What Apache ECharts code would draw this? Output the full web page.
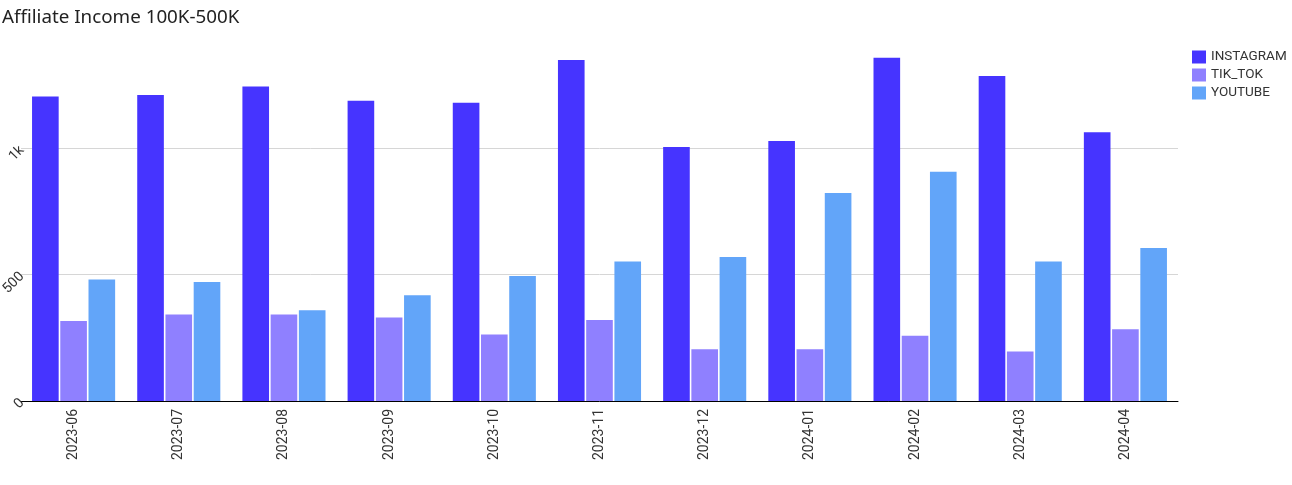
<!DOCTYPE html>
<html>
<head>
<meta charset="utf-8">
<script src="https://cdn.jsdelivr.net/npm/echarts@6/dist/echarts.min.js"></script>
<style>html,body{margin:0;padding:0;background:#fff;}#c{width:1292px;height:485px;}</style>
</head>
<body>
<div id="c"></div>
<script>
const categories = ['2023-06','2023-07','2023-08','2023-09','2023-10','2023-11','2023-12','2024-01','2024-02','2024-03','2024-04'];
const instagram = [1204, 1210, 1244, 1187, 1180, 1349, 1005, 1028, 1357, 1285, 1063];
const tikTok = [316, 342, 342, 330, 263, 320, 205, 205, 258, 196, 284];
const youtube = [481, 471, 359, 418, 494, 552, 569, 823, 907, 552, 605];
const seriesNames = ['INSTAGRAM', 'TIK_TOK', 'YOUTUBE'];
const yTicks = [0, 500, 1000];

const colors = ['#4634ff', '#8f80ff', '#62a5f9'];
const chart = echarts.init(document.getElementById('c'));
chart.setOption({
  animation: false,
  title: {
    text: 'Affiliate Income 100K-500K',
    left: -3, top: 3,
    textStyle: { fontFamily: 'Noto Sans', fontSize: 18.8, fontWeight: 'normal', color: '#222' }
  },
  legend: {
    orient: 'vertical', left: 1187, top: 45,
    itemWidth: 14, itemHeight: 13, itemGap: 4,
    icon: 'rect',
    textStyle: { fontFamily: 'Roboto', fontSize: 13.5, color: '#333' },
    data: seriesNames
  },
  grid: { left: 21, right: 114, top: 47, bottom: 84, containLabel: false, outerBoundsMode: 'none' },
  xAxis: {
    type: 'category', data: categories,
    axisLine: { lineStyle: { color: '#000', width: 1 } },
    axisTick: { alignWithLabel: true, length: 4, lineStyle: { color: '#bbb' } },
    axisLabel: { rotate: 90, fontFamily: 'Roboto', fontSize: 14, color: '#333', margin: 8 }
  },
  yAxis: {
    type: 'value', min: 0, max: 1400, interval: 500,
    axisLine: { show: false }, axisTick: { show: false },
    splitLine: { showMaxLine: false, lineStyle: { color: '#d6d6d6' } },
    axisLabel: {
      rotate: 45, fontFamily: 'Roboto', fontSize: 14, color: '#333', margin: -1,
      showMaxLabel: false,
      formatter: v => yTicks.indexOf(v) < 0 ? '' : (v >= 1000 ? (v / 1000) + 'k' : String(v))
    }
  },
  series: [
    { name: seriesNames[0], type: 'bar', data: instagram, itemStyle: { color: colors[0] }, barGap: '6%', barCategoryGap: '21%' },
    { name: seriesNames[1], type: 'bar', data: tikTok, itemStyle: { color: colors[1] }, barGap: '6%', barCategoryGap: '21%' },
    { name: seriesNames[2], type: 'bar', data: youtube, itemStyle: { color: colors[2] }, barGap: '6%', barCategoryGap: '21%' }
  ]
});
</script>
</body>
</html>
